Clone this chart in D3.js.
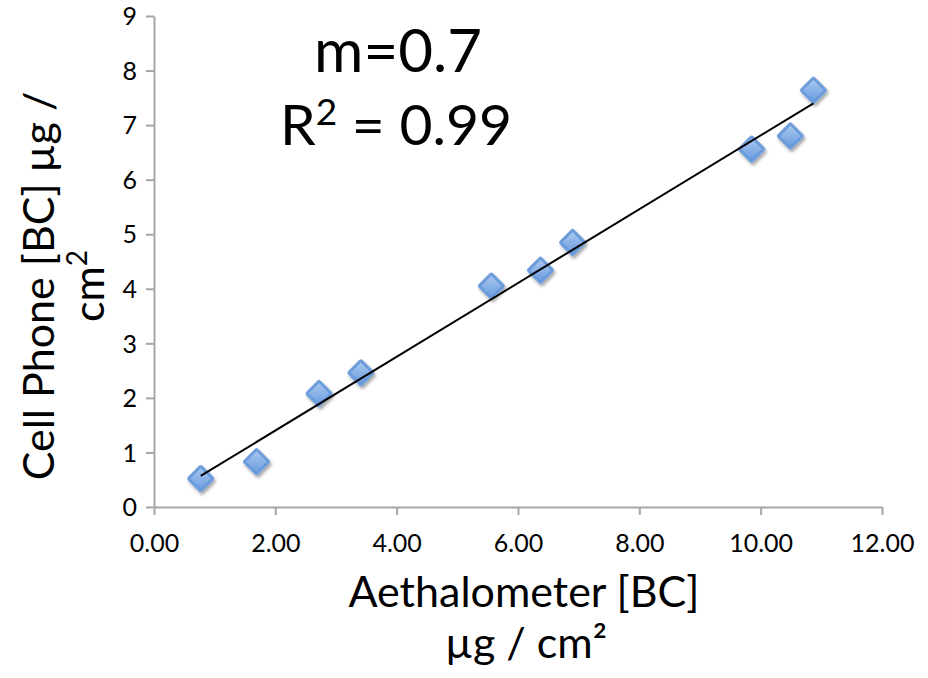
<!DOCTYPE html>
<html><head><meta charset="utf-8">
<script src="https://cdn.jsdelivr.net/npm/d3@7"></script>
<style>body{margin:0;background:#fff}svg{display:block}text{font-family:Lato,"Noto Sans",sans-serif}</style>
</head><body><svg id="c" width="928" height="678"></svg>
<script>
const xValues = [0.77, 1.69, 2.72, 3.41, 5.56, 6.37, 6.90, 9.85, 10.49, 10.87];
const yValues = [0.52, 0.83, 2.08, 2.46, 4.05, 4.34, 4.85, 6.56, 6.80, 7.64];
const xTicks = [0, 2, 4, 6, 8, 10, 12];
const yTicks = [0, 1, 2, 3, 4, 5, 6, 7, 8, 9];
const annotation = ["m=0.7", "R² = 0.99"];

const svg = d3.select("#c");
const x = d3.scaleLinear().domain([0, 12]).range([154, 882]);
const y = d3.scaleLinear().domain([0, 9]).range([507, 16]);

const defs = svg.append("defs");
const g = defs.append("linearGradient").attr("id","dg").attr("x1","0").attr("y1","0").attr("x2","0").attr("y2","1");
g.append("stop").attr("offset","0").attr("stop-color","#a9c7ef");
g.append("stop").attr("offset","1").attr("stop-color","#6b9de0");
const f = defs.append("filter").attr("id","sh").attr("x","-50%").attr("y","-50%").attr("width","200%").attr("height","200%");
f.append("feDropShadow").attr("dx",1.5).attr("dy",2.5).attr("stdDeviation",1.8).attr("flood-color","#000").attr("flood-opacity",0.35);

// axes
const axisColor = "#a6a6a6";
const xa = svg.append("g").attr("transform",`translate(0,${y(0)})`)
  .call(d3.axisBottom(x).tickValues(xTicks).tickFormat(d3.format(".2f")).tickSize(8).tickSizeOuter(0));
const ya = svg.append("g").attr("transform",`translate(${x(0)},0)`)
  .call(d3.axisLeft(y).tickValues(yTicks).tickFormat(d3.format("d")).tickSize(8).tickSizeOuter(0));
[xa, ya].forEach(a => {
  a.select(".domain").attr("stroke", axisColor).attr("stroke-width", 2);
  a.selectAll(".tick line").attr("stroke", axisColor).attr("stroke-width", 2);
  a.selectAll(".tick text").attr("fill","#000").style("font-size","25px").style("font-family","Lato,sans-serif");
});
xa.selectAll(".tick text").attr("dy", null).attr("y", 45);
ya.selectAll(".tick text").attr("x", -17).attr("dy","0.35em");

// points
const pts = xValues.map((v,i)=>({x:v,y:yValues[i]}));
const r = 13.5, k = 2.5;
const diamond = `M0,${-r+k} L${r-k},0 L0,${r-k} L${-r+k},0 Z`;
svg.append("g").selectAll("path").data(pts).join("path")
  .attr("d", diamond)
  .attr("transform", d=>`translate(${x(d.x)},${y(d.y)})`)
  .attr("fill","url(#dg)").attr("stroke","#6f9fdc").attr("stroke-width",5).attr("stroke-linejoin","round")
  .attr("filter","url(#sh)");
svg.append("g").selectAll("path").data(pts).join("path")
  .attr("d", diamond)
  .attr("transform", d=>`translate(${x(d.x)},${y(d.y)})`)
  .attr("fill","url(#dg)").attr("stroke","#5e90d4").attr("stroke-width",1).attr("stroke-linejoin","round");

// linear trendline (least squares)
const mx = d3.mean(xValues), my = d3.mean(yValues);
const slope = d3.sum(xValues.map((v,i)=>(v-mx)*(yValues[i]-my))) / d3.sum(xValues.map(v=>(v-mx)*(v-mx)));
const icpt = my - slope*mx;
const x0 = d3.min(xValues), x1 = d3.max(xValues);
svg.append("line").attr("x1",x(x0)).attr("y1",y(icpt+slope*x0)).attr("x2",x(x1)).attr("y2",y(icpt+slope*x1))
  .attr("stroke","#000").attr("stroke-width",2);

// annotation
svg.append("text").attr("x",398).attr("y",72).attr("text-anchor","middle").style("font-size","60px").text(annotation[0]);
const t2 = svg.append("text").attr("x",396).attr("y",145).attr("text-anchor","middle").style("font-size","57px");
t2.append("tspan").text("R");
t2.append("tspan").attr("dy",-20).style("font-size","37px").text("2");
t2.append("tspan").attr("dy",20).text(" = 0.99");

// axis titles
svg.append("text").attr("x",524).attr("y",607).attr("text-anchor","middle").style("font-size","43px").text("Aethalometer [BC]");
svg.append("text").attr("x",526).attr("y",658).attr("text-anchor","middle").style("font-size","43px").text("µg / cm²");
const yt = svg.append("g").attr("transform","translate(54,286) rotate(-90)");
yt.append("text").attr("x",0).attr("y",0).attr("text-anchor","middle").style("font-size","43px").text("Cell Phone [BC] µg /");
const yt2 = yt.append("text").attr("x",0).attr("y",50).attr("text-anchor","middle").style("font-size","43px");
yt2.append("tspan").text("cm");
yt2.append("tspan").attr("dy",-17).style("font-size","28px").text("2");
</script></body></html>
